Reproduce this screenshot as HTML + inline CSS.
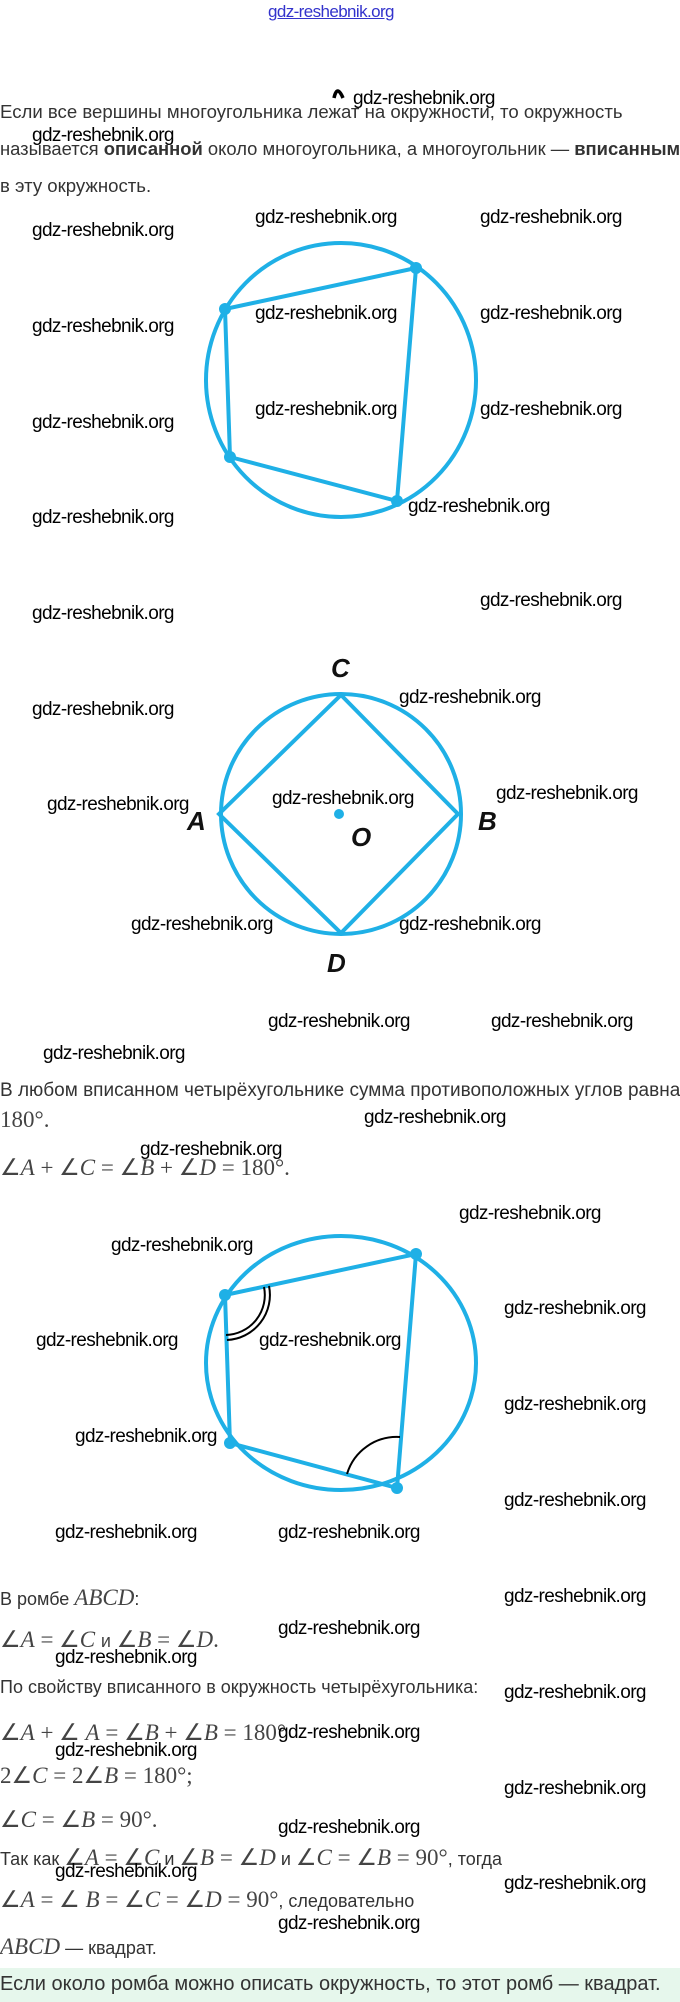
<!DOCTYPE html>
<html><head><meta charset="utf-8"><style>
body{margin:0;width:680px;height:2002px;position:relative;background:#fff;overflow:hidden;font-family:"Liberation Sans",sans-serif;}
.w{position:absolute;font-size:19px;color:#000;white-space:nowrap;font-family:"Liberation Sans",sans-serif;letter-spacing:-0.6px;}
.t{position:absolute;left:0;font-size:18px;color:#333;white-space:nowrap;}
.m{font-family:"Liberation Serif",serif;font-size:23px;color:#444;}
.m i{font-style:italic;}
svg{position:absolute;left:0;top:0;}
</style></head><body>
<div class="w" style="left:268px;top:2px;color:#3333cc;text-decoration:underline;font-size:17px">gdz-reshebnik.org</div>

<div class="t" style="top:101px;font-size:18.6px">Если все вершины многоугольника лежат на окружности, то окружность</div>
<div class="t" style="top:138px;font-size:18.4px">называется <b>описанной</b> около многоугольника, а многоугольник — <b>вписанным</b></div>
<div class="t" style="top:175px;font-size:18.6px">в эту окружность.</div>

<svg width="680" height="2002">
 <g stroke="#1fb0e6" stroke-width="4" fill="none">
  <ellipse cx="341" cy="380" rx="135" ry="137"/>
  <polygon points="416,268 225,309 230,457 397,501"/>
  <circle cx="341" cy="814" r="120"/>
  <polygon points="341,695 458,814 341,933 219,814"/>
  <ellipse cx="341" cy="1363" rx="135" ry="127"/>
  <polygon points="416,1254 225,1295 230,1443 397,1488"/>
 </g>
 <g fill="#1fb0e6">
  <circle cx="416" cy="268" r="6"/><circle cx="225" cy="309" r="6"/><circle cx="230" cy="457" r="6"/><circle cx="397" cy="501" r="6"/>
  <circle cx="339" cy="814" r="5"/>
  <circle cx="416" cy="1254" r="6"/><circle cx="225" cy="1295" r="6"/><circle cx="230" cy="1443" r="6"/><circle cx="397" cy="1488" r="6"/>
 </g>
 <g stroke="#000" stroke-width="2" fill="none">
  <path d="M264,1287 A40,40 0 0,1 226,1335"/>
  <path d="M269,1286 A45,45 0 0,1 227,1340"/>
  <path d="M347,1474 A52,52 0 0,1 400,1437"/>
 </g>
 <g font-family="Liberation Sans,sans-serif" font-style="italic" font-weight="bold" font-size="26" fill="#111">
  <text x="331" y="677">C</text>
  <text x="187" y="830">A</text>
  <text x="478" y="830">B</text>
  <text x="351" y="846">O</text>
  <text x="327" y="972">D</text>
 </g>
 <path d="M334,98 q3,-14 9,0" stroke="#000" stroke-width="3.5" fill="none"/>
</svg>

<div class="t" style="top:1080px;font-size:19px">В любом вписанном четырёхугольнике сумма противоположных углов равна</div>
<div class="t m" style="top:1107px">180°.</div>
<div class="t m" style="top:1155px">∠<i>A</i> + ∠<i>C</i> = ∠<i>B</i> + ∠<i>D</i> = 180°.</div>

<div class="t" style="top:1585px">В ромбе <span class="m"><i>ABCD</i></span>:</div>
<div class="t m" style="top:1627px">∠<i>A</i> = ∠<i>C</i> <span style="font-family:'Liberation Sans';font-size:18px">и</span> ∠<i>B</i> = ∠<i>D</i>.</div>
<div class="t" style="top:1677px">По свойству вписанного в окружность четырёхугольника:</div>
<div class="t m" style="top:1720px">∠<i>A</i> + ∠ <i>A</i> = ∠<i>B</i> + ∠<i>B</i> = 180°</div>
<div class="t m" style="top:1763px">2∠<i>C</i> = 2∠<i>B</i> = 180°;</div>
<div class="t m" style="top:1807px">∠<i>C</i> = ∠<i>B</i> = 90°.</div>
<div class="t" style="top:1845px">Так как <span class="m">∠<i>A</i> = ∠<i>C</i></span> и <span class="m">∠<i>B</i> = ∠<i>D</i></span> и <span class="m">∠<i>C</i> = ∠<i>B</i> = 90°</span>, тогда</div>
<div class="t" style="top:1887px"><span class="m">∠<i>A</i> = ∠ <i>B</i> = ∠<i>C</i> = ∠<i>D</i> = 90°</span>, следовательно</div>
<div class="t" style="top:1934px"><span class="m"><i>ABCD</i></span> — квадрат.</div>
<div style="position:absolute;left:0;top:1968px;width:680px;height:34px;background:#e6f7ec;"></div>
<div class="t" style="top:1973px;font-size:20px;color:#333">Если около ромба можно описать окружность, то этот ромб — квадрат.</div>

<div class="w" style="left:353px;top:88px">gdz-reshebnik.org</div>
<div class="w" style="left:32px;top:125px">gdz-reshebnik.org</div>
<div class="w" style="left:255px;top:207px">gdz-reshebnik.org</div>
<div class="w" style="left:480px;top:207px">gdz-reshebnik.org</div>
<div class="w" style="left:32px;top:220px">gdz-reshebnik.org</div>
<div class="w" style="left:255px;top:303px">gdz-reshebnik.org</div>
<div class="w" style="left:480px;top:303px">gdz-reshebnik.org</div>
<div class="w" style="left:32px;top:316px">gdz-reshebnik.org</div>
<div class="w" style="left:255px;top:399px">gdz-reshebnik.org</div>
<div class="w" style="left:480px;top:399px">gdz-reshebnik.org</div>
<div class="w" style="left:32px;top:412px">gdz-reshebnik.org</div>
<div class="w" style="left:408px;top:496px">gdz-reshebnik.org</div>
<div class="w" style="left:32px;top:507px">gdz-reshebnik.org</div>
<div class="w" style="left:480px;top:590px">gdz-reshebnik.org</div>
<div class="w" style="left:32px;top:603px">gdz-reshebnik.org</div>
<div class="w" style="left:399px;top:687px">gdz-reshebnik.org</div>
<div class="w" style="left:32px;top:699px">gdz-reshebnik.org</div>
<div class="w" style="left:47px;top:794px">gdz-reshebnik.org</div>
<div class="w" style="left:272px;top:788px">gdz-reshebnik.org</div>
<div class="w" style="left:496px;top:783px">gdz-reshebnik.org</div>
<div class="w" style="left:131px;top:914px">gdz-reshebnik.org</div>
<div class="w" style="left:399px;top:914px">gdz-reshebnik.org</div>
<div class="w" style="left:268px;top:1011px">gdz-reshebnik.org</div>
<div class="w" style="left:491px;top:1011px">gdz-reshebnik.org</div>
<div class="w" style="left:43px;top:1043px">gdz-reshebnik.org</div>
<div class="w" style="left:364px;top:1107px">gdz-reshebnik.org</div>
<div class="w" style="left:140px;top:1139px">gdz-reshebnik.org</div>
<div class="w" style="left:459px;top:1203px">gdz-reshebnik.org</div>
<div class="w" style="left:111px;top:1235px">gdz-reshebnik.org</div>
<div class="w" style="left:504px;top:1298px">gdz-reshebnik.org</div>
<div class="w" style="left:36px;top:1330px">gdz-reshebnik.org</div>
<div class="w" style="left:259px;top:1330px">gdz-reshebnik.org</div>
<div class="w" style="left:504px;top:1394px">gdz-reshebnik.org</div>
<div class="w" style="left:75px;top:1426px">gdz-reshebnik.org</div>
<div class="w" style="left:504px;top:1490px">gdz-reshebnik.org</div>
<div class="w" style="left:55px;top:1522px">gdz-reshebnik.org</div>
<div class="w" style="left:278px;top:1522px">gdz-reshebnik.org</div>
<div class="w" style="left:504px;top:1586px">gdz-reshebnik.org</div>
<div class="w" style="left:278px;top:1618px">gdz-reshebnik.org</div>
<div class="w" style="left:55px;top:1647px">gdz-reshebnik.org</div>
<div class="w" style="left:504px;top:1682px">gdz-reshebnik.org</div>
<div class="w" style="left:278px;top:1722px">gdz-reshebnik.org</div>
<div class="w" style="left:55px;top:1740px">gdz-reshebnik.org</div>
<div class="w" style="left:504px;top:1778px">gdz-reshebnik.org</div>
<div class="w" style="left:278px;top:1817px">gdz-reshebnik.org</div>
<div class="w" style="left:55px;top:1861px">gdz-reshebnik.org</div>
<div class="w" style="left:504px;top:1873px">gdz-reshebnik.org</div>
<div class="w" style="left:278px;top:1913px">gdz-reshebnik.org</div>
</body></html>
